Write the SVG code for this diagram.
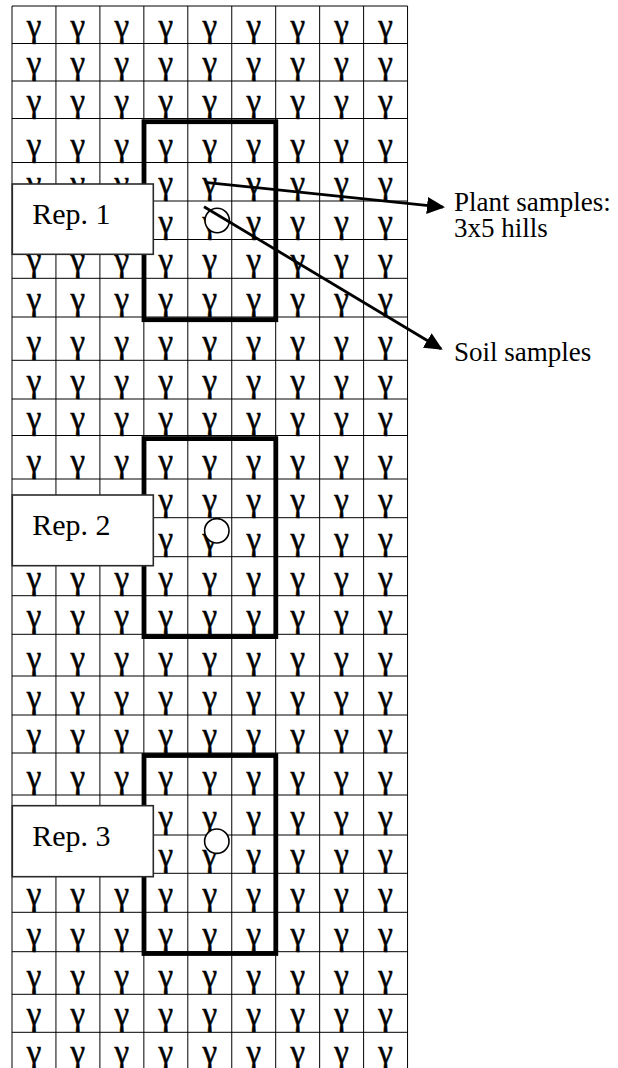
<svg xmlns="http://www.w3.org/2000/svg" width="618" height="1068" viewBox="0 0 618 1068">
<style>
.bg{fill:#fff}
.gl{stroke:#000;stroke-width:1;fill:none}
.p{font-family:"Liberation Serif","Times New Roman",serif;font-size:33px;fill:#000;stroke:#000;stroke-width:0.5;text-anchor:middle}
.plot{fill:none;stroke:#000;stroke-width:4.8}
.hole{fill:#fff;stroke:#000;stroke-width:1.6}
.rep{fill:#fff;stroke:#2a2a2a;stroke-width:1.6}
.rt{font-family:"Liberation Serif","Times New Roman",serif;font-size:30px;fill:#000}
.lt{font-family:"Liberation Serif","Times New Roman",serif;font-size:27px;fill:#000}
.ar{stroke:#000;stroke-width:2.8;fill:none;marker-end:url(#ah)}
</style>
<defs>
<marker id="ah" markerUnits="userSpaceOnUse" markerWidth="19" markerHeight="17" refX="16" refY="8.5" orient="auto" viewBox="0 0 19 17">
<path d="M0,0 L18,8.5 L0,17 z" fill="#000"/>
</marker>
</defs>
<rect class="bg" x="0" y="0" width="618" height="1068"/>
<g id="grid">
<path class="gl" d="M12,6V1070M55.95,6V1070M99.9,6V1070M143.85,6V1070M187.8,6V1070M231.75,6V1070M275.7,6V1070M319.65,6V1070M363.6,6V1070M407.55,6V1070"/>
<path class="gl" d="M12,6H407.55M12,43.5H407.55M12,81H407.55M12,118.5H407.55M12,162.5H407.55M12,201H407.55M12,239.5H407.55M12,278.3H407.55M12,317H407.55M12,360.3H407.55M12,399H407.55M12,435.5H407.55M12,479H407.55M12,517.7H407.55M12,556.7H407.55M12,595.7H407.55M12,634.3H407.55M12,676H407.55M12,715H407.55M12,753H407.55M12,795H407.55M12,835H407.55M12,873.3H407.55M12,912.3H407.55M12,951.7H407.55M12,994.3H407.55M12,1032.3H407.55"/>
</g>
<g id="plants">
<text class="p" x="34 77.9 121.9 165.8 209.8 253.7 297.7 341.6 385.6" y="36.5">γγγγγγγγγ</text>
<text class="p" x="34 77.9 121.9 165.8 209.8 253.7 297.7 341.6 385.6" y="74">γγγγγγγγγ</text>
<text class="p" x="34 77.9 121.9 165.8 209.8 253.7 297.7 341.6 385.6" y="111.5">γγγγγγγγγ</text>
<text class="p" x="34 77.9 121.9 165.8 209.8 253.7 297.7 341.6 385.6" y="155.5">γγγγγγγγγ</text>
<text class="p" x="34 77.9 121.9 165.8 209.8 253.7 297.7 341.6 385.6" y="194">γγγγγγγγγ</text>
<text class="p" x="165.8 209.8 253.7 297.7 341.6 385.6" y="232.5">γγγγγγ</text>
<text class="p" x="34 77.9 121.9 165.8 209.8 253.7 297.7 341.6 385.6" y="271.3">γγγγγγγγγ</text>
<text class="p" x="34 77.9 121.9 165.8 209.8 253.7 297.7 341.6 385.6" y="310">γγγγγγγγγ</text>
<text class="p" x="34 77.9 121.9 165.8 209.8 253.7 297.7 341.6 385.6" y="353.3">γγγγγγγγγ</text>
<text class="p" x="34 77.9 121.9 165.8 209.8 253.7 297.7 341.6 385.6" y="392">γγγγγγγγγ</text>
<text class="p" x="34 77.9 121.9 165.8 209.8 253.7 297.7 341.6 385.6" y="428.5">γγγγγγγγγ</text>
<text class="p" x="34 77.9 121.9 165.8 209.8 253.7 297.7 341.6 385.6" y="472">γγγγγγγγγ</text>
<text class="p" x="165.8 209.8 253.7 297.7 341.6 385.6" y="510.7">γγγγγγ</text>
<text class="p" x="165.8 209.8 253.7 297.7 341.6 385.6" y="549.7">γγγγγγ</text>
<text class="p" x="34 77.9 121.9 165.8 209.8 253.7 297.7 341.6 385.6" y="588.7">γγγγγγγγγ</text>
<text class="p" x="34 77.9 121.9 165.8 209.8 253.7 297.7 341.6 385.6" y="627.3">γγγγγγγγγ</text>
<text class="p" x="34 77.9 121.9 165.8 209.8 253.7 297.7 341.6 385.6" y="669">γγγγγγγγγ</text>
<text class="p" x="34 77.9 121.9 165.8 209.8 253.7 297.7 341.6 385.6" y="708">γγγγγγγγγ</text>
<text class="p" x="34 77.9 121.9 165.8 209.8 253.7 297.7 341.6 385.6" y="746">γγγγγγγγγ</text>
<text class="p" x="34 77.9 121.9 165.8 209.8 253.7 297.7 341.6 385.6" y="788">γγγγγγγγγ</text>
<text class="p" x="165.8 209.8 253.7 297.7 341.6 385.6" y="828">γγγγγγ</text>
<text class="p" x="165.8 209.8 253.7 297.7 341.6 385.6" y="866.3">γγγγγγ</text>
<text class="p" x="34 77.9 121.9 165.8 209.8 253.7 297.7 341.6 385.6" y="905.3">γγγγγγγγγ</text>
<text class="p" x="34 77.9 121.9 165.8 209.8 253.7 297.7 341.6 385.6" y="944.7">γγγγγγγγγ</text>
<text class="p" x="34 77.9 121.9 165.8 209.8 253.7 297.7 341.6 385.6" y="987.3">γγγγγγγγγ</text>
<text class="p" x="34 77.9 121.9 165.8 209.8 253.7 297.7 341.6 385.6" y="1025.3">γγγγγγγγγ</text>
<text class="p" x="34 77.9 121.9 165.8 209.8 253.7 297.7 341.6 385.6" y="1063">γγγγγγγγγ</text>
</g>
<g id="rep1">
<rect class="plot" x="144" y="121.7" width="131.8" height="198"/>
<circle class="hole" cx="217.2" cy="220.5" r="12.2"/>
<rect class="rep" x="12.3" y="184" width="141" height="70.3"/>
<text class="rt" x="32.3" y="224.3">Rep. 1</text>
</g>
<g id="rep2">
<rect class="plot" x="144" y="438.6" width="131.8" height="198"/>
<circle class="hole" cx="216.8" cy="530.8" r="12.2"/>
<rect class="rep" x="12.3" y="495" width="141" height="70.7"/>
<text class="rt" x="32.3" y="535">Rep. 2</text>
</g>
<g id="rep3">
<rect class="plot" x="144" y="755.5" width="131.8" height="198"/>
<circle class="hole" cx="216.8" cy="841.2" r="12.2"/>
<rect class="rep" x="12.3" y="805.7" width="141" height="71"/>
<text class="rt" x="32.3" y="846">Rep. 3</text>
</g>
<g id="connectors">
<line class="ar" x1="205" y1="182.3" x2="443" y2="207.1"/>
<line class="ar" x1="204" y1="206.7" x2="441" y2="348.7"/>
</g>
<g id="plant-label">
<text class="lt" x="454" y="211">Plant samples:</text>
<text class="lt" x="454" y="237">3x5 hills</text>
</g>
<g id="soil-label">
<text class="lt" x="454" y="361">Soil samples</text>
</g>
</svg>
